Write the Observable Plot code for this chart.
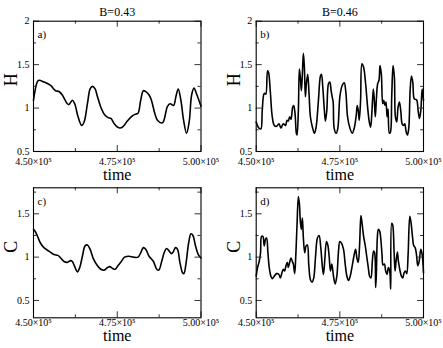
<!DOCTYPE html>
<html><head><meta charset="utf-8">
<script src="https://cdn.jsdelivr.net/npm/d3@7"></script>
<script src="https://cdn.jsdelivr.net/npm/@observablehq/plot@0.6"></script>
<style>
body{margin:0;background:#fff;}
#wrap{position:relative;width:443px;height:348px;font-family:"Liberation Serif",serif;}
#wrap svg{position:absolute;overflow:visible;}
#wrap svg, #wrap svg text{font-family:"Liberation Serif",serif !important;}
</style></head><body><div id="wrap"></div>
<script>
// time in units of 10^3
const timeA_k = [450.0,451.1,451.6,453.1,455.1,456.6,457.6,458.6,460.1,460.6,461.6,462.3,463.3,464.4,465.1,466.1,466.9,467.6,468.4,469.1,470.1,471.3,472.3,473.1,474.1,475.1,475.8,476.8,478.0,479.5,480.5,481.2,482.0,482.8,483.5,484.5,485.2,486.2,487.0,488.5,490.0,490.8,491.8,492.5,493.2,494.0,494.8,495.7,496.5,497.2,497.9,498.8,500.0];
const hA = [1.09,1.30,1.32,1.30,1.26,1.20,1.19,1.15,1.05,1.04,1.09,1.05,0.90,0.80,0.84,1.05,1.22,1.25,1.22,1.13,1.01,0.92,0.89,0.88,0.82,0.78,0.77,0.79,0.85,0.91,0.93,0.94,1.09,1.20,1.19,1.15,1.09,0.94,0.86,0.83,1.02,1.05,1.03,1.13,1.22,1.09,0.86,0.71,0.85,1.15,1.23,1.15,1.02];

const timeB_k = [450.0,450.8,451.4,451.8,452.3,452.6,452.9,453.4,453.7,454.2,454.8,455.4,456.1,456.8,457.4,458.1,458.8,459.2,459.6,460.0,460.4,460.9,461.2,461.6,462.0,462.2,462.6,462.9,463.2,463.5,463.8,464.1,464.4,464.7,465.0,465.4,465.8,466.2,466.8,467.4,467.9,468.6,469.2,469.5,469.9,470.4,470.7,471.1,471.6,472.0,472.4,472.7,473.0,473.3,473.9,474.4,475.0,475.7,476.3,476.8,477.3,478.0,478.7,479.3,479.9,480.2,480.5,480.8,481.2,481.6,482.1,482.7,483.3,483.8,484.2,484.6,485.0,485.3,485.6,485.9,486.3,486.7,487.0,487.4,487.8,488.1,488.5,488.8,489.1,489.4,489.8,490.1,490.5,490.9,491.3,491.6,492.0,492.4,492.8,493.2,493.6,494.0,494.4,494.8,495.2,495.6,496.0,496.4,496.8,497.2,497.6,498.0,498.4,498.8,499.2,499.6,500.0];
const hB = [0.84,0.77,0.76,0.97,1.16,1.17,1.16,1.43,1.41,1.20,0.90,0.80,0.79,0.82,0.77,0.82,0.80,0.86,0.85,0.90,0.87,1.01,1.03,0.94,0.71,0.69,0.97,1.45,1.35,1.20,1.39,1.63,1.47,1.13,1.28,1.39,1.16,0.90,0.78,0.71,0.78,1.09,1.37,1.39,1.24,0.96,0.85,0.97,1.28,1.30,1.20,1.13,1.07,0.77,0.71,0.77,1.13,1.26,1.29,1.18,0.90,0.77,0.71,0.77,0.92,1.03,0.97,0.86,1.09,1.51,1.47,1.28,1.01,0.84,0.78,0.97,1.22,1.09,0.90,1.09,1.28,1.32,1.49,1.39,1.05,1.09,1.03,1.07,0.90,0.99,0.71,0.72,1.13,1.49,1.35,0.90,0.84,1.01,1.07,0.97,0.82,0.80,0.82,0.73,0.69,0.77,1.20,1.37,1.30,1.11,1.10,1.09,0.97,0.88,0.97,1.22,1.09];

const timeC_k = [450.0,450.6,451.3,452.1,453.1,454.6,456.1,457.3,458.1,459.1,460.1,461.1,461.6,462.3,463.1,463.8,464.6,465.4,466.1,466.9,467.9,469.1,470.1,471.1,472.1,472.8,473.6,474.4,475.2,476.2,477.2,478.5,479.8,481.2,482.0,482.8,483.5,484.5,485.8,486.8,487.4,488.2,489.0,489.7,490.5,491.2,491.7,492.4,493.0,493.7,494.5,494.9,495.5,496.3,497.0,497.6,498.3,499.2,500.0];
const cC = [1.32,1.29,1.23,1.16,1.11,1.07,1.03,1.02,0.99,0.95,0.94,0.96,0.95,0.89,0.83,0.88,1.01,1.13,1.14,1.09,0.98,0.90,0.86,0.85,0.88,0.89,0.87,0.86,0.90,0.95,1.00,1.01,1.00,1.00,1.05,1.11,1.09,1.01,0.95,0.86,0.85,0.94,1.05,1.10,1.07,1.04,1.06,1.11,1.09,0.94,0.82,0.81,0.92,1.16,1.27,1.25,1.14,1.03,0.99];

const timeD_k = [450.0,450.4,450.9,451.3,451.6,452.0,452.4,452.8,453.1,453.5,453.9,454.4,454.8,455.4,456.1,456.8,457.2,457.7,458.1,458.5,458.9,459.3,459.6,460.0,460.4,460.8,461.1,461.5,461.8,462.2,462.6,462.9,463.2,463.5,463.8,464.1,464.5,464.9,465.3,465.7,466.2,466.7,467.2,467.7,468.3,468.8,469.3,469.8,470.1,470.5,471.0,471.4,471.8,472.2,472.6,473.1,473.6,474.1,474.6,475.0,475.5,476.1,476.6,477.1,477.6,478.1,478.6,479.2,479.7,480.1,480.5,480.9,481.3,481.7,482.1,482.6,483.1,483.5,483.9,484.3,484.7,485.1,485.4,485.7,485.9,486.2,486.5,486.9,487.3,487.6,487.9,488.3,488.7,489.1,489.5,489.9,490.2,490.5,490.8,491.2,491.5,491.8,492.2,492.5,493.0,493.4,493.8,494.2,494.6,495.0,495.4,495.9,496.3,496.7,497.1,497.5,497.9,498.3,498.7,499.2,499.6,500.0];
const cD = [0.78,0.88,0.95,1.05,1.24,1.24,1.13,1.21,1.22,1.05,0.88,0.78,0.75,0.78,0.81,0.80,0.76,0.82,0.86,0.84,0.90,0.94,0.88,0.94,0.99,0.95,0.92,0.81,0.99,1.37,1.70,1.62,1.41,1.32,1.45,1.22,1.05,1.13,1.14,0.92,0.74,0.71,0.76,0.99,1.22,1.25,1.11,0.88,0.80,0.97,1.18,1.14,1.01,0.84,0.92,0.78,0.69,0.78,1.07,1.18,1.16,1.09,0.92,0.78,0.73,0.78,0.88,1.01,1.09,0.99,0.94,1.14,1.48,1.37,1.24,1.13,0.99,0.88,0.78,0.76,0.95,1.07,1.05,0.65,0.80,1.22,1.32,1.30,1.18,1.03,0.91,0.92,0.84,0.80,0.88,0.84,0.63,1.39,1.37,1.07,0.84,0.95,1.06,0.95,0.84,0.78,0.76,0.82,0.84,0.81,1.03,1.47,1.39,1.24,1.13,1.11,1.03,0.90,0.95,1.09,1.03,0.82];

const titles = ["B=0.43", "B=0.46"];
const panelTags = ["a)", "b)", "c)", "d)"];
const xTicks = [450000, 475000, 500000];
const xMinor = [462500, 487500];
const hTicks = [0.5, 1, 1.5, 2];
const hMinor = [0.75, 1.25, 1.75];
const cTicks = [0.5, 1, 1.5];
const cMinor = [0.75, 1.25, 1.75];
const hDomain = [0.5, 2];
const cDomain = [0.3, 1.8];
const xLabel = "time";

const FONT = "Liberation Serif";
const fmtX = d => (d / 1e5).toFixed(2) + "×10⁵";
const fmtY = d => String(d);

function panel(o) {
  const fw = o.width - o.mL - o.mR, fh = o.height - o.mT - o.mB;
  const data = o.times.map((t, i) => ({t: t * 1000, v: o.values[i]}));
  const marks = [
    Plot.line(data, {x: "t", y: "v", curve: "catmull-rom", stroke: "black", strokeWidth: 1.6}),
    Plot.tickY(o.yTicks, {y: d => d, insetRight: fw - 6, stroke: "#333"}),
    Plot.tickY(o.yTicks, {y: d => d, insetLeft: fw - 6, stroke: "#333"}),
    Plot.tickY(o.yMinor, {y: d => d, insetRight: fw - 3, stroke: "#333"}),
    Plot.tickY(o.yMinor, {y: d => d, insetLeft: fw - 3, stroke: "#333"}),
    Plot.tickX(xTicks, {x: d => d, insetTop: fh - 6, stroke: "#333"}),
    Plot.tickX(xTicks, {x: d => d, insetBottom: fh - 6, stroke: "#333"}),
    Plot.tickX(xMinor, {x: d => d, insetTop: fh - 3, stroke: "#333"}),
    Plot.tickX(xMinor, {x: d => d, insetBottom: fh - 3, stroke: "#333"}),
    Plot.frame({stroke: "black", strokeWidth: 1.1}),
    Plot.axisX(xTicks, {tickSize: 0, tickPadding: o.xPad, tickFormat: fmtX, fontSize: 10, fontFamily: FONT, label: null}),
    Plot.axisY(o.yTicks, {tickSize: 0, tickPadding: 4, tickFormat: fmtY, fontSize: 10, fontFamily: FONT, label: null}),
    Plot.text([o.ylabel], {text: d => d, frameAnchor: "left", dx: -22, rotate: -90, fontSize: 18, fontFamily: FONT}),
    Plot.text([xLabel], {text: d => d, frameAnchor: "bottom", dy: o.timeDy, fontSize: 16, fontFamily: FONT}),
    Plot.text([o.tag], {text: d => d, frameAnchor: "top-left", dx: 4, dy: 9, textAnchor: "start", fontSize: 11, fontFamily: FONT})
  ];
  if (o.title) marks.push(Plot.text([o.title], {text: d => d, frameAnchor: "top", dy: -13.5, fontSize: 12, fontFamily: FONT}));
  const svg = Plot.plot({
    width: o.width, height: o.height,
    marginLeft: o.mL, marginRight: o.mR, marginTop: o.mT, marginBottom: o.mB,
    x: {domain: [450000, 500000], label: null},
    y: {domain: o.yDomain, label: null},
    style: {background: "transparent", overflow: "visible", fontFamily: FONT, color: "black"},
    marks
  });
  svg.style.left = o.left + "px";
  svg.style.top = o.top + "px";
  document.getElementById("wrap").appendChild(svg);
}

panel({times: timeA_k, values: hA, yDomain: hDomain, yTicks: hTicks, yMinor: hMinor, ylabel: "H", tag: panelTags[0], title: titles[0],
  left: 0, top: 0, width: 221, height: 182, mL: 33, mR: 20.5, mT: 20.7, mB: 31, xPad: 6, timeDy: 28});
panel({times: timeB_k, values: hB, yDomain: hDomain, yTicks: hTicks, yMinor: hMinor, ylabel: "H", tag: panelTags[1], title: titles[1],
  left: 221, top: 0, width: 222, height: 182, mL: 34.7, mR: 20, mT: 20.7, mB: 31, xPad: 6, timeDy: 28});
panel({times: timeC_k, values: cC, yDomain: cDomain, yTicks: cTicks, yMinor: cMinor, ylabel: "C", tag: panelTags[2],
  left: 0, top: 182, width: 221, height: 166, mL: 33, mR: 20.5, mT: 5.3, mB: 30.7, xPad: 1, timeDy: 23.5});
panel({times: timeD_k, values: cD, yDomain: cDomain, yTicks: cTicks, yMinor: cMinor, ylabel: "C", tag: panelTags[3],
  left: 221, top: 182, width: 222, height: 166, mL: 34.7, mR: 20, mT: 5.3, mB: 30.7, xPad: 1, timeDy: 23.5});
</script></body></html>
